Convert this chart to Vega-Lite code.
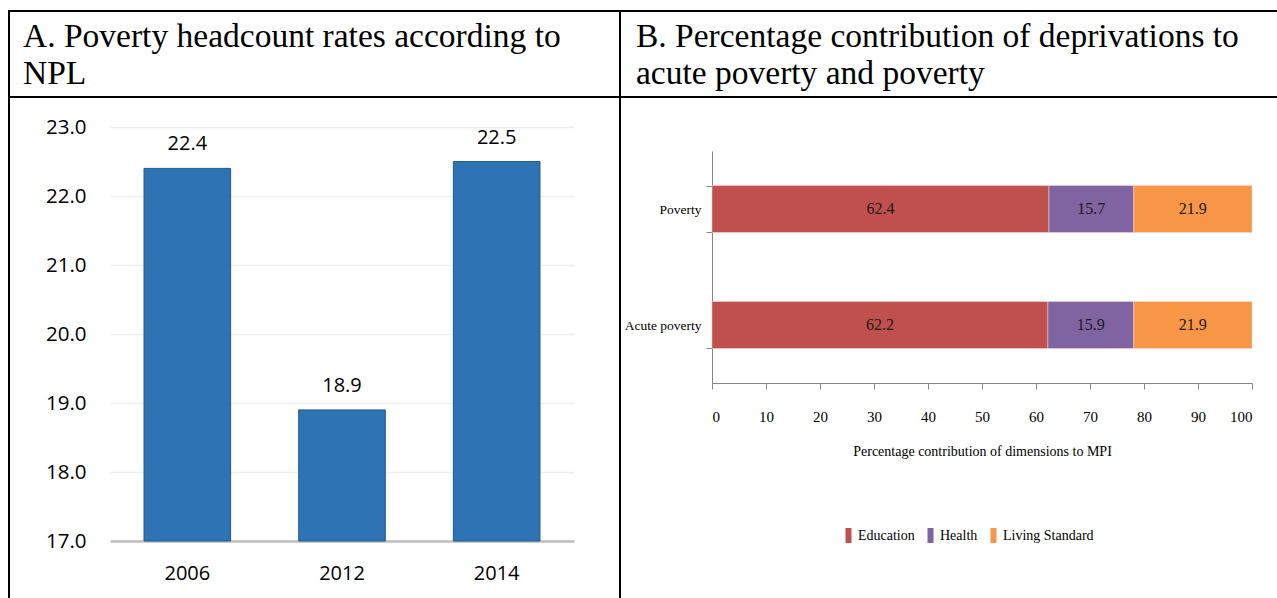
{
  "$schema": "https://vega.github.io/schema/vega-lite/v6.json",
  "padding": {"left": 8, "top": 10, "right": 0, "bottom": 0},
  "background": "white",
  "columns": 2,
  "spacing": 0,
  "bounds": "flush",
  "config": {
    "view": {"stroke": "black", "strokeWidth": 2},
    "axis": {"grid": false}
  },
  "concat": [
    {
      "width": 611,
      "height": 86,
      "data": {"values": [
        {"line": 1, "text": "A. Poverty headcount rates according to"},
        {"line": 2, "text": "NPL"}
      ]},
      "mark": {"type": "text", "align": "left", "baseline": "alphabetic", "font": "Liberation Serif", "fontSize": 33.5, "color": "black", "dx": 14},
      "encoding": {
        "x": {"datum": "A", "type": "nominal", "scale": {"type": "point", "padding": 0, "align": 0}, "axis": null},
        "y": {"field": "line", "type": "ordinal", "scale": {"type": "point", "range": [36, 73], "padding": 0}, "axis": null},
        "text": {"field": "text"}
      }
    },
    {
      "width": 662,
      "height": 86,
      "data": {"values": [
        {"line": 1, "text": "B. Percentage contribution of deprivations to"},
        {"line": 2, "text": "acute poverty and poverty"}
      ]},
      "mark": {"type": "text", "align": "left", "baseline": "alphabetic", "font": "Liberation Serif", "fontSize": 33.5, "color": "black", "dx": 16},
      "encoding": {
        "x": {"datum": "B", "type": "nominal", "scale": {"type": "point", "padding": 0, "align": 0}, "axis": null},
        "y": {"field": "line", "type": "ordinal", "scale": {"type": "point", "range": [36, 73], "padding": 0}, "axis": null},
        "text": {"field": "text"}
      }
    },
    {
      "width": 611,
      "height": 506,
      "data": {"values": [
        {"year": "2006", "rate": 22.4},
        {"year": "2012", "rate": 18.9},
        {"year": "2014", "rate": 22.5}
      ]},
      "encoding": {
        "x": {
          "field": "year", "type": "nominal", "sort": null,
          "scale": {"range": [101, 565], "paddingInner": 0.44, "paddingOuter": 0.22},
          "axis": {"orient": "bottom", "offset": -62, "title": null, "labelAngle": 0, "domainColor": "#bfbfbf", "domainWidth": 2.5, "ticks": false, "labelFont": "Open Sans", "labelFontSize": 20, "labelColor": "black", "labelPadding": 22}
        },
        "y": {
          "field": "rate", "type": "quantitative",
          "scale": {"domain": [17, 23], "range": [444, 30], "nice": false, "zero": false},
          "axis": {"orient": "left", "offset": -101, "title": null, "values": [17, 18, 19, 20, 21, 22, 23], "format": ".1f", "domain": false, "ticks": false, "grid": true, "gridColor": "#efefef", "gridWidth": 1.5, "labelPadding": 24, "labelFont": "Open Sans", "labelFontSize": 20.5, "labelColor": "black"}
        }
      },
      "layer": [
        {
          "mark": {"type": "bar", "color": "#2e74b5", "stroke": "#22598f", "strokeWidth": 1},
          "encoding": {"y2": {"datum": 17}}
        },
        {
          "mark": {"type": "text", "baseline": "alphabetic", "dy": -18, "font": "Open Sans", "fontSize": 20, "color": "black"},
          "encoding": {"text": {"field": "rate", "type": "quantitative", "format": ".1f"}}
        }
      ]
    },
    {
      "width": 662,
      "height": 506,
      "data": {"values": [
        {"group": "Poverty", "dimension": "Education", "value": 62.4},
        {"group": "Poverty", "dimension": "Health", "value": 15.7},
        {"group": "Poverty", "dimension": "Living Standard", "value": 21.9},
        {"group": "Acute poverty", "dimension": "Education", "value": 62.2},
        {"group": "Acute poverty", "dimension": "Health", "value": 15.9},
        {"group": "Acute poverty", "dimension": "Living Standard", "value": 21.9}
      ]},
      "transform": [
        {"stack": "value", "groupby": ["group"], "sort": [{"field": "dimension"}], "as": ["x0", "x1"]},
        {"calculate": "(datum.x0 + datum.x1) / 2", "as": "mid"}
      ],
      "encoding": {
        "y": {
          "field": "group", "type": "nominal", "sort": ["Poverty", "Acute poverty"],
          "scale": {"range": [54, 286], "paddingInner": 0.595, "paddingOuter": 0.2975},
          "axis": {"orient": "left", "offset": -92, "title": null, "tickBand": "extent", "domainColor": "#868686", "tickColor": "#868686", "tickSize": 6, "labelPadding": 5, "labelFont": "Liberation Serif", "labelFontSize": 13.5, "labelColor": "black"}
        }
      },
      "layer": [
        {
          "mark": {"type": "bar", "stroke": "#f2dcdb", "strokeWidth": 0.5},
          "encoding": {
            "x": {
              "field": "x0", "type": "quantitative",
              "scale": {"domain": [0, 100], "range": [92, 632], "nice": false},
              "axis": {"orient": "bottom", "offset": -220, "values": [0, 10, 20, 30, 40, 50, 60, 70, 80, 90, 100], "domainColor": "#868686", "tickColor": "#868686", "tickSize": 6, "labelFont": "Liberation Serif", "labelFontSize": 15, "labelColor": "black", "labelPadding": 20, "title": "Percentage contribution of dimensions to MPI", "titleFont": "Liberation Serif", "titleFontSize": 14, "titleFontWeight": "normal", "titleColor": "black", "titlePadding": 20}
            },
            "x2": {"field": "x1"},
            "color": {
              "field": "dimension", "type": "nominal",
              "scale": {"domain": ["Education", "Health", "Living Standard"], "range": ["#c0504d", "#8064a2", "#f79646"]},
              "legend": {"orient": "none", "legendX": 832, "legendY": 517, "direction": "horizontal", "title": null, "symbolType": "M-0.4,-1H0.4V1H-0.4Z", "symbolSize": 225, "symbolStrokeWidth": 0, "labelFont": "Liberation Serif", "labelFontSize": 14, "labelColor": "black", "labelOffset": 2, "columnPadding": 8}
            }
          }
        },
        {
          "mark": {"type": "text", "baseline": "middle", "font": "Liberation Serif", "fontSize": 16, "color": "#1a1a1a"},
          "encoding": {
            "x": {"field": "mid", "type": "quantitative"},
            "text": {"field": "value", "type": "quantitative", "format": ".1f"}
          }
        }
      ]
    }
  ]
}
